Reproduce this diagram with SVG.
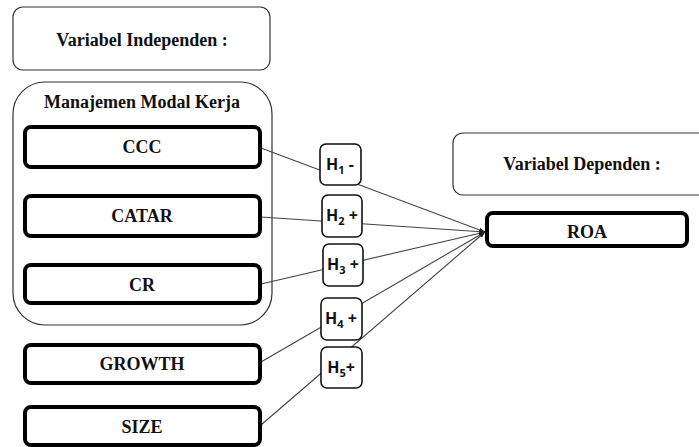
<svg xmlns="http://www.w3.org/2000/svg" width="699" height="447" viewBox="0 0 699 447">
<defs>
<style>
.lbl{font-family:"Liberation Serif","Times New Roman",serif;font-weight:bold;font-size:18px;fill:#111;text-anchor:middle}
.thin{fill:#fff;stroke:#333;stroke-width:1.2}
.thick{fill:#fff;stroke:#000;stroke-width:4}
.hbox{fill:#fff;stroke:#111;stroke-width:1.6}
.h{font-family:"Open Sans","Liberation Sans",sans-serif;font-size:16px;font-weight:bold;fill:#111;text-anchor:middle}
.sub{font-size:11px}
.conn{stroke:#444;stroke-width:1.1;fill:none;marker-end:url(#arr)}
</style>
<marker id="arr" viewBox="0 0 10 10" refX="10" refY="5" markerWidth="6" markerHeight="6" markerUnits="userSpaceOnUse" orient="auto">
<path d="M0,1 L10,5 L0,9 z" fill="#222"/>
</marker>
</defs>
<rect width="699" height="447" fill="#fff"/>
<g id="ind-title"><rect class="thin" x="13" y="7" width="257" height="63" rx="10"/><text class="lbl" x="142" y="46">Variabel Independen :</text></g>
<g id="dep-title"><rect class="thin" x="453" y="133" width="260" height="62" rx="10"/><text class="lbl" x="582" y="170">Variabel Dependen :</text></g>
<g id="group"><rect class="thin" x="13" y="82" width="259" height="243" rx="32"/><text class="lbl" x="142" y="108">Manajemen Modal Kerja</text></g>
<g id="connectors">
<line class="conn" x1="261" y1="148" x2="485" y2="232"/>
<line class="conn" x1="261" y1="217" x2="485" y2="232"/>
<line class="conn" x1="261" y1="284" x2="485" y2="232"/>
<line class="conn" x1="261" y1="362" x2="485" y2="232"/>
<line class="conn" x1="261" y1="425" x2="485" y2="232"/>
</g>
<g id="ccc"><rect class="thick" x="25" y="127" width="235" height="40" rx="6"/><text class="lbl" x="142" y="153">CCC</text></g>
<g id="catar"><rect class="thick" x="25" y="196" width="235" height="40" rx="6"/><text class="lbl" x="142" y="222">CATAR</text></g>
<g id="cr"><rect class="thick" x="25" y="265" width="235" height="38" rx="6"/><text class="lbl" x="142" y="291">CR</text></g>
<g id="growth"><rect class="thick" x="25" y="345" width="235" height="38" rx="6"/><text class="lbl" x="142" y="370">GROWTH</text></g>
<g id="size"><rect class="thick" x="25" y="407" width="235" height="38" rx="6"/><text class="lbl" x="142" y="433">SIZE</text></g>
<g id="roa"><rect class="thick" x="487" y="213" width="200" height="33" rx="6"/><text class="lbl" x="587" y="238">ROA</text></g>
<g id="h1"><rect class="hbox" x="320" y="144" width="41" height="41" rx="6"/><text class="h" x="340" y="170">H<tspan class="sub" dy="4">1</tspan><tspan dy="-4"> -</tspan></text></g>
<g id="h2"><rect class="hbox" x="322" y="195" width="40" height="42" rx="6"/><text class="h" x="342" y="221">H<tspan class="sub" dy="4">2</tspan><tspan dy="-4"> +</tspan></text></g>
<g id="h3"><rect class="hbox" x="323" y="244" width="40" height="42" rx="6"/><text class="h" x="343" y="270">H<tspan class="sub" dy="4">3</tspan><tspan dy="-4"> +</tspan></text></g>
<g id="h4"><rect class="hbox" x="321" y="298" width="41" height="42" rx="6"/><text class="h" x="341" y="324">H<tspan class="sub" dy="4">4</tspan><tspan dy="-4"> +</tspan></text></g>
<g id="h5"><rect class="hbox" x="321" y="347" width="41" height="41" rx="6"/><text class="h" x="341" y="373">H<tspan class="sub" dy="4">5</tspan><tspan dy="-4">+</tspan></text></g>
</svg>
